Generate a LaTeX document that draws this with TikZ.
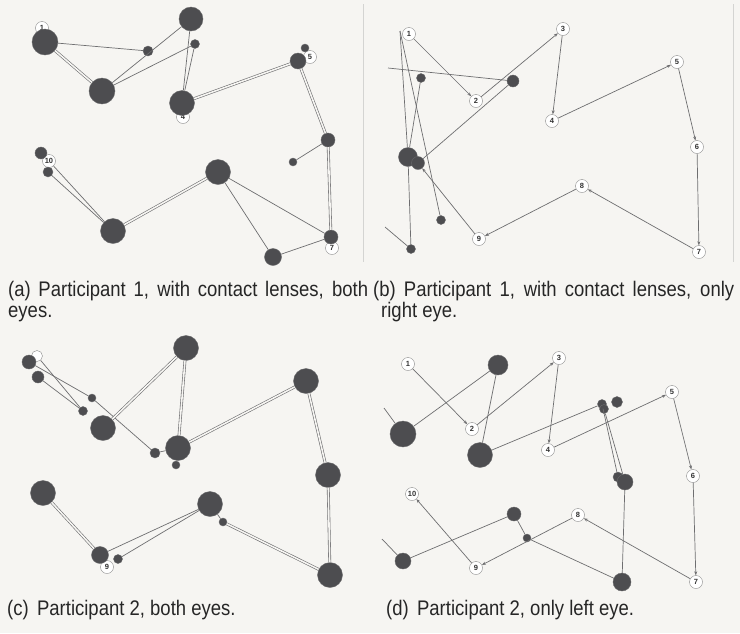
\documentclass[tikz,border=0pt]{standalone}
\usepackage{fontspec}
\setmainfont{Liberation Sans}
\usepackage{graphicx}
\usepackage{tikz}
\usetikzlibrary{arrows.meta}
\definecolor{paper}{HTML}{F6F5F2}
\definecolor{fixGrey}{HTML}{4D4D50}
\definecolor{fixEdge}{HTML}{6A6A6C}
\definecolor{saccGrey}{HTML}{6E6E70}
\definecolor{numEdge}{HTML}{8A8A8A}
\definecolor{rule}{HTML}{D4D4D2}
\newcommand{\capline}[1]{\scalebox{1}[1.14]{#1}}
\tikzset{
  fix/.style={circle, fill=fixGrey, draw=fixEdge, thin, inner sep=0pt},
  num/.style={circle, draw=numEdge, fill=white, thin, inner sep=0pt, minimum size=13pt,
              font=\bfseries\fontsize{7.5}{7.5}\selectfont, text=black!80},
  sacc/.style={draw=saccGrey, line width=0.7pt},
  both/.style={draw=saccGrey, line width=0.6pt, double=paper, double distance=1.6pt},
  jump/.style={draw=saccGrey, line width=0.7pt, -{Stealth[length=4pt, width=3pt]}},
  caption/.style={anchor=base west, inner sep=0pt, font=\fontsize{18.5}{21}\selectfont, text=black!85}
}

\begin{document}
\begin{tikzpicture}[x=1pt, y=-1pt]
  \fill[paper] (0,0) rectangle (740,633);
  \useasboundingbox (0,0) rectangle (740,633);
  \draw[rule] (363,4) -- (363,262);
  \draw[rule] (733,4) -- (733,262);

  % (a) participant 1, both eyes
  \node[num] (a-n1) at (42,28) {1};
  \node[num] (a-n4) at (183,117) {4};
  \node[num] (a-n5) at (310,57) {5};
  \node[num] (a-n7) at (332,248) {7};
  \node[num] (a-n10) at (49,161) {10};
  \node[fix, minimum size=26pt] (a1) at (45,42) {};
  \node[fix, minimum size=10pt] (a2) at (148,51) {};
  \node[fix, minimum size=26pt] (a3) at (102,91) {};
  \node[fix, minimum size=24pt] (a4) at (191,19) {};
  \node[fix, minimum size=9pt] (a5) at (195,44) {};
  \node[fix, minimum size=25pt] (a6) at (182,103) {};
  \node[fix, minimum size=16pt] (a7) at (298,61) {};
  \node[fix, minimum size=8pt] (a8) at (305,48) {};
  \node[fix, minimum size=14pt] (a9) at (328,140) {};
  \node[fix, minimum size=8pt] (a10) at (293,162) {};
  \node[fix, minimum size=12pt] (a11) at (41,153) {};
  \node[fix, minimum size=10pt] (a12) at (48,172) {};
  \node[fix, minimum size=25pt] (a13) at (218,172) {};
  \node[fix, minimum size=25pt] (a14) at (113,231) {};
  \node[fix, minimum size=14pt] (a15) at (331,237) {};
  \node[fix, minimum size=17pt] (a16) at (273,257) {};
  \draw[sacc] (a1) -- (a2);
  \draw[both] (a1) -- (a3);
  \draw[sacc] (a3) -- (a4);
  \draw[sacc] (a3) -- (a5);
  \draw[sacc] (a4) -- (a6);
  \draw[sacc] (a5) -- (a6);
  \draw[both] (a6) -- (a7);
  \draw[both] (a7) -- (a9);
  \draw[sacc] (a9) -- (a10);
  \draw[both] (a9) -- (a15);
  \draw[sacc] (a15) -- (a16);
  \draw[sacc] (a15) -- (a13);
  \draw[sacc] (a16) -- (a13);
  \draw[both] (a13) -- (a14);
  \draw[sacc] (a14) -- (a12);
  \draw[sacc] (a14) -- (a-n10);

  % (b) participant 1, right eye
  \node[num] (b-n1) at (409,34) {1};
  \node[num] (b-n2) at (476,101) {2};
  \node[num] (b-n3) at (563,29) {3};
  \node[num] (b-n4) at (552,121) {4};
  \node[num] (b-n5) at (677,62) {5};
  \node[num] (b-n6) at (697,147) {6};
  \node[num] (b-n7) at (699,252) {7};
  \node[num] (b-n8) at (582,186) {8};
  \node[num] (b-n9) at (479,239) {9};
  \node[fix, minimum size=9pt] (b1) at (421,78) {};
  \node[fix, minimum size=12pt] (b2) at (513,81) {};
  \node[fix, minimum size=19pt] (b3) at (408,157) {};
  \node[fix, minimum size=13pt] (b4) at (418,163) {};
  \node[fix, minimum size=9pt] (b5) at (441,220) {};
  \node[fix, minimum size=9pt] (b6) at (411,249) {};
  \coordinate (b-s1) at (400,31);
  \coordinate (b-s2) at (388,68);
  \coordinate (b-s3) at (385,227);
  \foreach \i/\j in {1/2, 2/3, 3/4, 4/5, 5/6, 6/7, 7/8, 8/9}
    \draw[jump] (b-n\i) -- (b-n\j);
  \draw[jump] (b-n9) -- (b4);
  \draw[sacc] (b-s1) -- (b3);
  \draw[sacc] (b-s1) -- (b5);
  \draw[sacc] (b-s2) -- (b2);
  \draw[sacc] (b1) -- (b3);
  \draw[sacc] (b2) -- (b4);
  \draw[sacc] (b6) -- (b3);
  \draw[sacc] (b-s3) -- (b6);

  % (c) participant 2, both eyes
  \node[num, minimum size=11pt] (c-n1) at (37,356) {};
  \node[num] (c-n9) at (107,567) {9};
  \node[fix, minimum size=14pt] (c1) at (29,362) {};
  \node[fix, minimum size=12pt] (c2) at (38,377) {};
  \node[fix, minimum size=8pt] (c3) at (92,398) {};
  \node[fix, minimum size=9pt] (c4) at (83,411) {};
  \node[fix, minimum size=25pt] (c5) at (103,428) {};
  \node[fix, minimum size=25pt] (c6) at (186,348) {};
  \node[fix, minimum size=10pt] (c7) at (155,453) {};
  \node[fix, minimum size=25pt] (c8) at (178,448) {};
  \node[fix, minimum size=8pt] (c9) at (176,465) {};
  \node[fix, minimum size=25pt] (c10) at (306,381) {};
  \node[fix, minimum size=25pt] (c11) at (328,475) {};
  \node[fix, minimum size=25pt] (c12) at (43,493) {};
  \node[fix, minimum size=25pt] (c13) at (210,504) {};
  \node[fix, minimum size=8pt] (c14) at (223,522) {};
  \node[fix, minimum size=17pt] (c15) at (100,555) {};
  \node[fix, minimum size=9pt] (c16) at (118,559) {};
  \node[fix, minimum size=25pt] (c17) at (330,575) {};
  \draw[sacc] (c1) -- (c3);
  \draw[sacc] (c3) -- (c7);
  \draw[sacc] (c2) -- (c4);
  \draw[sacc] (c-n1) -- (c4);
  \draw[sacc] (c7) -- (c8);
  \draw[sacc] (c9) -- (c8);
  \draw[both] (c5) -- (c6);
  \draw[both] (c6) -- (c8);
  \draw[both] (c8) -- (c10);
  \draw[both] (c10) -- (c11);
  \draw[both] (c11) -- (c17);
  \draw[both] (c17) -- (c14);
  \draw[sacc] (c14) -- (c13);
  \draw[sacc] (c13) -- (c15);
  \draw[sacc] (c13) -- (c16);
  \draw[both] (c15) -- (c12);

  % (d) participant 2, left eye
  \node[num] (d-n1) at (408,364) {1};
  \node[num] (d-n2) at (472,429) {2};
  \node[num] (d-n3) at (559,358) {3};
  \node[num] (d-n4) at (548,450) {4};
  \node[num] (d-n5) at (672,392) {5};
  \node[num] (d-n6) at (693,476) {6};
  \node[num] (d-n7) at (696,582) {7};
  \node[num] (d-n8) at (578,515) {8};
  \node[num] (d-n9) at (476,568) {9};
  \node[num] (d-n10) at (412,494) {10};
  \node[fix, minimum size=20pt] (d1) at (498,365) {};
  \node[fix, minimum size=26pt] (d2) at (403,434) {};
  \node[fix, minimum size=25pt] (d3) at (480,455) {};
  \node[fix, minimum size=9pt] (d4) at (602,404) {};
  \node[fix, minimum size=9pt] (d5) at (604,409) {};
  \node[fix, minimum size=11pt] (d6) at (617,402) {};
  \node[fix, minimum size=10pt] (d7) at (618,477) {};
  \node[fix, minimum size=16pt] (d8) at (625,482) {};
  \node[fix, minimum size=14pt] (d9) at (514,514) {};
  \node[fix, minimum size=8pt] (d10) at (527,538) {};
  \node[fix, minimum size=16pt] (d11) at (403,561) {};
  \node[fix, minimum size=18pt] (d12) at (622,582) {};
  \coordinate (d-s1) at (384,408);
  \coordinate (d-s2) at (382,539);
  \foreach \i/\j in {1/2, 2/3, 3/4, 4/5, 5/6, 6/7, 7/8, 8/9, 9/10}
    \draw[jump] (d-n\i) -- (d-n\j);
  \draw[sacc] (d-s1) -- (d2);
  \draw[sacc] (d2) -- (d1);
  \draw[sacc] (d1) -- (d3);
  \draw[sacc] (d3) -- (d4);
  \draw[sacc] (d4) -- (d7);
  \draw[sacc] (d5) -- (d8);
  \draw[sacc] (d8) -- (d12);
  \draw[sacc] (d12) -- (d10);
  \draw[sacc] (d10) -- (d9);
  \draw[sacc] (d9) -- (d11);
  \draw[sacc] (d11) -- (d-s2);

  % captions
  \node[caption] (cap-a) at (8,296) {\capline{\makebox[360pt][s]{(a) Participant 1, with contact lenses, both}}};
  \node[caption] (cap-a2) at (8,317) {\capline{eyes.}};
  \node[caption] (cap-b) at (373,296) {\capline{\makebox[361pt][s]{(b) Participant 1, with contact lenses, only}}};
  \node[caption] (cap-b2) at (381,317) {\capline{right eye.}};
  \node[caption] (cap-c) at (7,615) {\capline{(c)\hspace{0.45em}Participant 2, both eyes.}};
  \node[caption] (cap-d) at (386,615) {\capline{(d)\hspace{0.45em}Participant 2, only left eye.}};
\end{tikzpicture}
\end{document}
